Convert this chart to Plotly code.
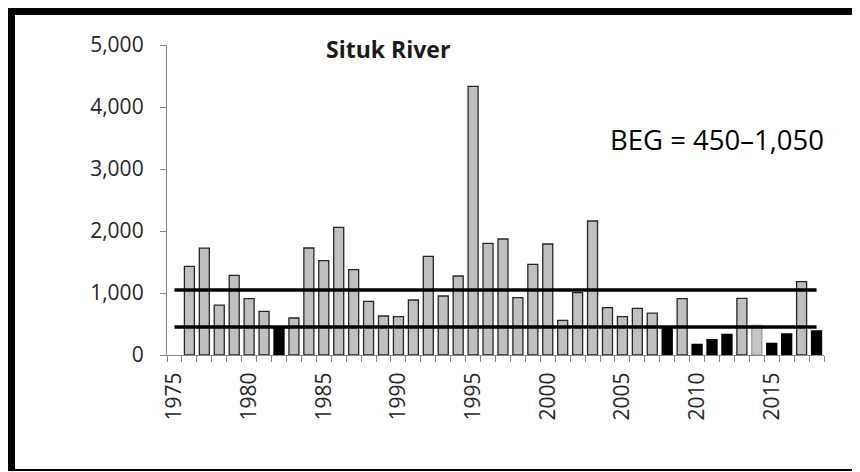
import plotly.graph_objects as go

years = list(range(1975, 2019))
escapement = [
    None, 1430, 1725, 806, 1285, 908, 704, 430, 597, 1726,
    1521, 2059, 1376, 866, 629, 618, 887, 1591, 952, 1274,
    4333, 1801, 1871, 925, 1462, 1790, 559, 1005, 2161, 763,
    618, 753, 677, 430, 908, 172, 247, 333, 914, 478,
    188, 339, 1183, 387,
]
goal_low = 450
goal_high = 1050
estimated_years = [2014]
title_text = "Situk River"
goal_text = "BEG = 450–1,050"
label_years = [1975, 1980, 1985, 1990, 1995, 2000, 2005, 2010, 2015]

# page body margin offsets the figure by 8px
OFF = 8
W, H = 852, 464
L, T = 167 - OFF, 45 - OFF
pw, ph = 657, 310
R, B = W - L - pw, H - T - ph

def px(x):
    return (x - OFF - L) / pw

def py(y):
    return (T + ph - (y - OFF)) / ph

fills, lines = [], []
for yr, v in zip(years, escapement):
    if v is not None and v < goal_low:
        fills.append("#000000"); lines.append("#000000")
    elif yr in estimated_years:
        fills.append("#c6c6c6"); lines.append("#9a9a9a")
    else:
        fills.append("#c0c0c0"); lines.append("#262626")

fig = go.Figure()
fig.add_trace(go.Bar(
    x=years, y=escapement,
    marker=dict(color=fills, line=dict(color=lines, width=1.3)),
    hoverinfo="x+y",
))
for g in (goal_low, goal_high):
    fig.add_trace(go.Scatter(
        x=years, y=[g] * len(years), mode="lines",
        line=dict(color="#000000", width=3.5), hoverinfo="skip",
    ))

font_family = "Open Sans, Lato, Liberation Sans, sans-serif"

fig.update_layout(
    width=W, height=H,
    margin=dict(l=L, r=R, t=T, b=B),
    paper_bgcolor="white", plot_bgcolor="white",
    showlegend=False, bargap=0.33,
    font=dict(family=font_family, size=21, color="#262626"),
    xaxis=dict(
        range=[1974.5, 2018.5],
        tickmode="array", tickvals=label_years,
        ticktext=[str(y) for y in label_years],
        tickangle=-90, ticks="outside", ticklen=0,
        showline=True, linecolor="#868686", linewidth=1.3,
        showgrid=False, zeroline=False,
        tickfont=dict(size=21),
        minor=dict(tickmode="linear", tick0=1974.5, dtick=1,
                   ticks="outside", ticklen=6, tickcolor="#868686",
                   tickwidth=1.3, showgrid=False),
        ticklabelstandoff=8,
    ),
    yaxis=dict(
        range=[0, 5000], tickmode="linear", tick0=0, dtick=1000,
        tickformat=",", ticks="outside", ticklen=6,
        tickcolor="#868686", tickwidth=1.3,
        showline=True, linecolor="#868686", linewidth=1.3,
        showgrid=False, zeroline=False,
        tickfont=dict(size=21),
        ticklabelstandoff=12,
    ),
    annotations=[
        dict(text="<b>" + title_text + "</b>", xref="paper", yref="paper",
             x=px(388), y=py(49), xanchor="center", yanchor="middle",
             showarrow=False, font=dict(size=23, color="#1a1a1a")),
        dict(text=goal_text, xref="paper", yref="paper",
             x=px(717), y=py(139), xanchor="center", yanchor="middle",
             showarrow=False, font=dict(size=27.5, color="#000000")),
    ],
    shapes=[
        dict(type="rect", xref="paper", yref="paper", layer="above",
             x0=px(7), x1=px(875), y0=py(7), y1=py(15),
             fillcolor="#000000", line=dict(width=0)),
        dict(type="rect", xref="paper", yref="paper", layer="above",
             x0=px(7), x1=px(15), y0=py(7), y1=py(471),
             fillcolor="#000000", line=dict(width=0)),
        dict(type="rect", xref="paper", yref="paper", layer="above",
             x0=px(7), x1=px(875), y0=py(469), y1=py(471),
             fillcolor="#000000", line=dict(width=0)),
    ],
)

fig.write_html("out.html")
